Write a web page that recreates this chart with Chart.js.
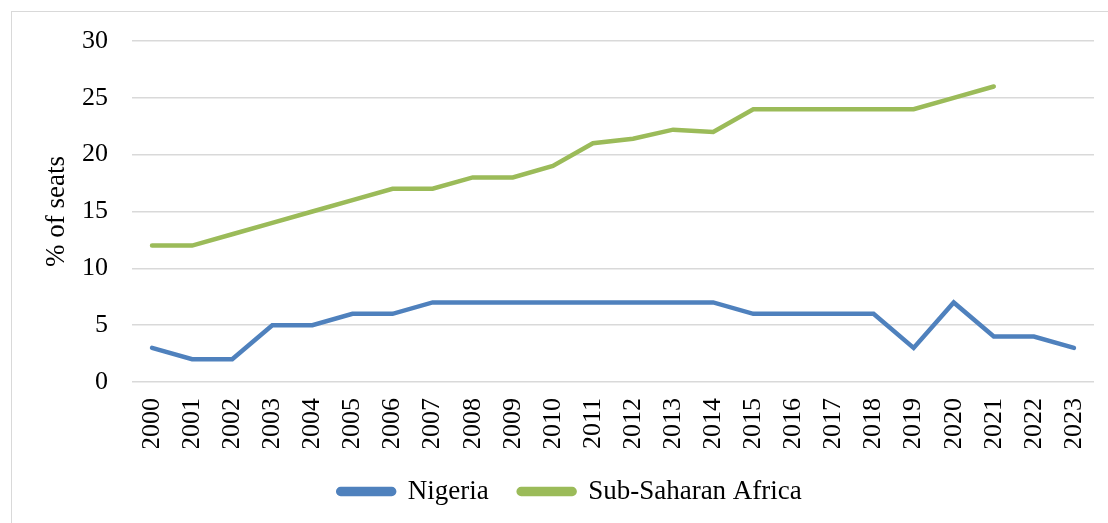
<!DOCTYPE html>
<html>
<head>
<meta charset="utf-8">
<script src="https://cdn.jsdelivr.net/npm/chart.js@4.4.0/dist/chart.umd.min.js"></script>
<style>
  html, body { margin: 0; padding: 0; background: #fff; }
  #wrap { position: relative; width: 1108px; height: 523px; overflow: hidden; }
  #frame { position: absolute; left: 11px; top: 11px; width: 1110px; height: 530px; border: 1px solid #d9d9d9; box-sizing: border-box; }
  canvas { position: absolute; left: 0; top: 0; }
</style>
</head>
<body>
<div id="wrap">
  <div id="frame"></div>
  <canvas id="c" width="1108" height="523"></canvas>
</div>
<script>
const years = ['2000','2001','2002','2003','2004','2005','2006','2007','2008','2009','2010','2011','2012','2013','2014','2015','2016','2017','2018','2019','2020','2021','2022','2023'];
const nigeria = [3,2,2,5,5,6,6,7,7,7,7,7,7,7,7,6,6,6,6,3,7,4,4,3];
const ssa = [12,12,13,14,15,16,17,17,18,18,19,21,21.4,22.2,22,24,24,24,24,24,25,26,null,null];
const yTicks = [0,5,10,15,20,25,30];

const FONT = "'Liberation Serif', 'Times New Roman', serif";

new Chart(document.getElementById('c'), {
  type: 'line',
  data: {
    labels: years,
    datasets: [
      { label: 'Nigeria', data: nigeria, borderColor: '#4F81BD', backgroundColor: '#4F81BD', borderWidth: 4.5, pointRadius: 0, tension: 0, borderCapStyle: 'round', borderJoinStyle: 'miter' },
      { label: 'Sub-Saharan Africa', data: ssa, borderColor: '#9BBB59', backgroundColor: '#9BBB59', borderWidth: 4.5, pointRadius: 0, tension: 0, borderCapStyle: 'round', borderJoinStyle: 'miter' }
    ]
  },
  options: {
    responsive: false,
    animation: false,
    layout: { padding: { left: 46, right: 14, top: 41, bottom: 8 } },
    plugins: {
      tooltip: { enabled: false },
      legend: {
        position: 'bottom',
        labels: {
          boxWidth: 56, boxHeight: 5,
          useBorderRadius: true, borderRadius: 2.5,
          padding: 30,
          color: '#000',
          font: { family: FONT, size: 27 }
        }
      }
    },
    scales: {
      x: {
        offset: true,
        grid: { display: false, drawTicks: false },
        border: { display: false },
        ticks: { color: '#000', font: { family: FONT, size: 26 }, maxRotation: 90, minRotation: 90, padding: 16, autoSkip: false },
        afterFit(s) { s.height = 66; s.paddingLeft = 0; s.paddingRight = 0; }
      },
      y: {
        min: 0, max: 30,
        afterBuildTicks(s) { s.ticks = yTicks.map(v => ({ value: v })); },
        grid: { color: '#d9d9d9', lineWidth: 1.4, drawTicks: false },
        border: { display: false },
        ticks: { color: '#000', font: { family: FONT, size: 26 }, padding: 24 },
        title: { display: true, text: '% of seats', color: '#000', font: { family: FONT, size: 27, lineHeight: 1 }, padding: { top: -3, bottom: 0 } },
        afterFit(s) { s.width = 86; s.paddingTop = 0; s.paddingBottom = 0; }
      }
    }
  }
});
</script>
</body>
</html>
